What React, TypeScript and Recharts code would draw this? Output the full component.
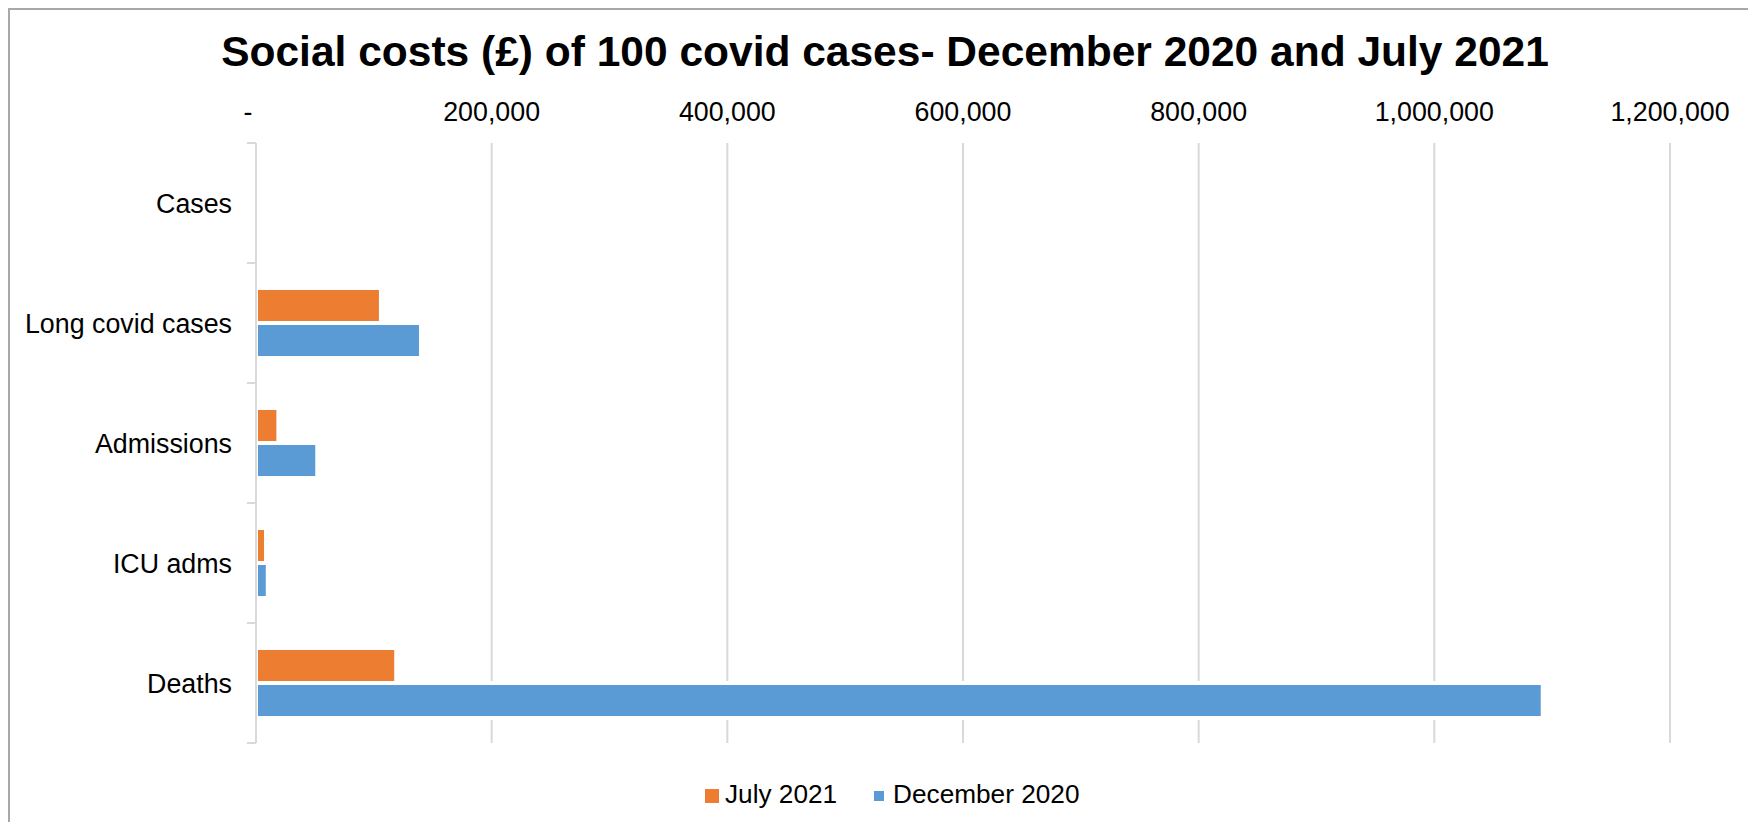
import React from 'react';
import { BarChart, Bar, XAxis, YAxis, CartesianGrid } from 'recharts';

const categories = ['Cases', 'Long covid cases', 'Admissions', 'ICU adms', 'Deaths'];
const july2021 = [1200, 106000, 19000, 8500, 119000];
const december2020 = [1500, 140000, 52000, 10000, 1092000];
const xTicks = [0, 200000, 400000, 600000, 800000, 1000000, 1200000];

const series = [
  { key: 'july', name: 'July 2021', color: '#ED7D31', square: 14 },
  { key: 'dec', name: 'December 2020', color: '#5B9BD5', square: 10 },
];

const data = categories.map((c, i) => ({ category: c, july: july2021[i], dec: december2020[i] }));

const FONT = '"Liberation Sans", Arial, sans-serif';
const GRID = '#d9d9d9';
const BORDER = '#a8a8a8';
const Y_TICK_MARGIN = 24;
const Y_TICK_LEN = 9;

const XTick = (props: any) => {
  const { x, y, payload } = props;
  const v = payload.value as number;
  const label = v === 0 ? '-' : v.toLocaleString('en-US');
  return (
    <text x={x} y={y} dx={v === 0 ? -8 : 0} textAnchor="middle" fontSize={26.8} fill="#000" fontFamily={FONT}>
      {label}
    </text>
  );
};

const YTick = (props: any) => {
  const { x, y, payload, index } = props;
  const half = payload.offset || 0;
  const axisX = x + Y_TICK_MARGIN;
  const last = index === categories.length - 1;
  return (
    <g>
      <line x1={axisX - Y_TICK_LEN} x2={axisX} y1={y - half} y2={y - half} stroke={GRID} strokeWidth={2} />
      {last && <line x1={axisX - Y_TICK_LEN} x2={axisX} y1={y + half} y2={y + half} stroke={GRID} strokeWidth={2} />}
      <text x={x} y={y} dy="0.355em" textAnchor="end" fontSize={26.8} fill="#000" fontFamily={FONT}>
        {payload.value}
      </text>
    </g>
  );
};

export default function App() {
  return (
    <div style={{ position: 'relative', width: 1740, height: 814, fontFamily: FONT }}>
      <style>{`body{overflow:hidden;}`}</style>
      <div
        style={{
          position: 'absolute',
          left: 0,
          top: 23,
          width: 1754,
          textAlign: 'center',
          fontSize: 42.5,
          lineHeight: '42px',
          fontWeight: 'bold',
          color: '#000',
          whiteSpace: 'nowrap',
        }}
      >
        Social costs (£) of 100 covid cases- December 2020 and July 2021
      </div>
      <div style={{ position: 'absolute', left: 0, top: 0 }}>
        <BarChart
          width={1740}
          height={814}
          data={data}
          layout="vertical"
          margin={{ top: 95, right: 78, bottom: 79, left: 0 }}
          barGap={0}
        >
          <CartesianGrid horizontal={false} vertical stroke={GRID} strokeWidth={2} />
          <Bar dataKey="july" name="July 2021" fill={series[0].color} stroke="#fff" strokeWidth={4} barSize={35} isAnimationActive={false} />
          <Bar dataKey="dec" name="December 2020" fill={series[1].color} stroke="#fff" strokeWidth={4} barSize={35} isAnimationActive={false} />
          <XAxis
            type="number"
            orientation="top"
            domain={[0, 1200000]}
            ticks={xTicks}
            height={40}
            axisLine={false}
            tickLine={false}
            tickSize={0}
            tickMargin={22}
            tick={<XTick />}
            interval={0}
          />
          <YAxis
            type="category"
            dataKey="category"
            width={248}
            axisLine={{ stroke: GRID, strokeWidth: 2 }}
            tickLine={false}
            tickSize={0}
            tickMargin={Y_TICK_MARGIN}
            tick={<YTick />}
            interval={0}
          />
        </BarChart>
      </div>
      <div style={{ position: 'absolute', left: 0, top: 0, width: 1748, height: 2, background: BORDER, zIndex: 5 }} />
      <div style={{ position: 'absolute', left: 0, top: 0, width: 2, height: 822, background: BORDER, zIndex: 5 }} />
      <div
        style={{
          position: 'absolute',
          left: 697,
          top: 771,
          height: 30,
          display: 'flex',
          alignItems: 'center',
          fontSize: 26.2,
          lineHeight: '30px',
          color: '#000',
          whiteSpace: 'nowrap',
        }}
      >
        {series.map((s, i) => (
          <div key={s.key} style={{ display: 'flex', alignItems: 'center', marginLeft: i === 0 ? 0 : 37 }}>
            <span
              style={{
                display: 'inline-block',
                width: s.square,
                height: s.square,
                background: s.color,
                position: 'relative',
                top: 2,
                marginRight: i === 0 ? 6 : 9,
              }}
            />
            <span>{s.name}</span>
          </div>
        ))}
      </div>
    </div>
  );
}
